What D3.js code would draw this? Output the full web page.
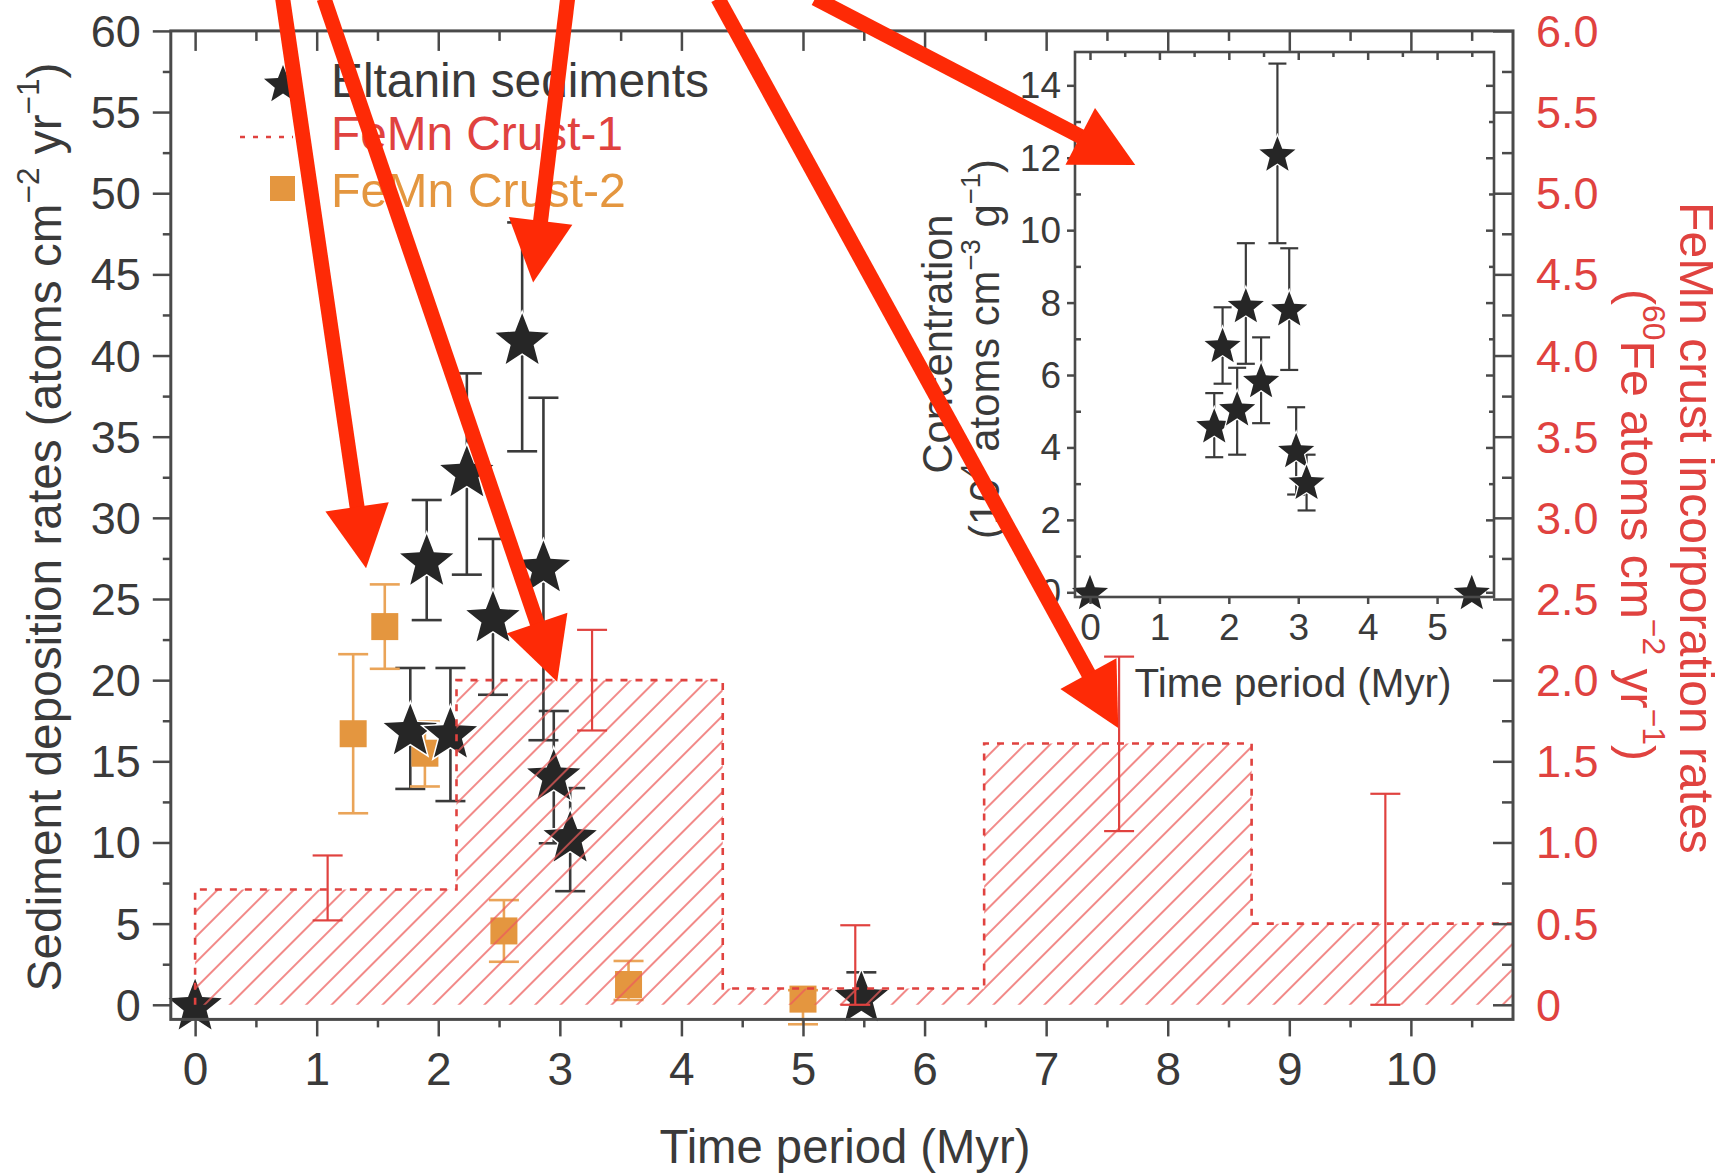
<!DOCTYPE html>
<html><head><meta charset="utf-8">
<script src="https://cdn.jsdelivr.net/npm/d3@7"></script>
<style>
body{margin:0;background:#fff}
svg{display:block}
text{font-family:"Liberation Sans",Arial,Helvetica,sans-serif}
</style>
</head><body>
<svg id="chart" width="1728" height="1173"></svg>
<script>
// ---------------- DATA ----------------
// Eltanin sediments: deposition rates (atoms cm^-2 yr^-1) vs time period (Myr)
const eltaninAge      = [0, 1.77, 1.905, 2.10, 2.235, 2.45, 2.69, 2.865, 2.95, 3.085, 5.48];
const eltaninRate     = [0, 16.95, 27.4, 16.75, 32.85, 23.9, 41.0, 27.0, 14.15, 10.35, 0.5];
const eltaninRateLow  = [null, 13.3, 23.7, 12.55, 26.5, 19.1, 34.1, 16.3, 9.95, 7.0, 0.5];
const eltaninRateHigh = [null, 20.75, 31.1, 20.75, 38.9, 28.7, 48.2, 37.4, 18.1, 13.35, 2.0];

// Inset: concentration
const insetAge      = [0, 1.79, 1.91, 2.12, 2.245, 2.465, 2.70, 2.87, 2.97, 3.12, 5.5];
const insetConc     = [0, 4.6, 6.82, 5.07, 7.92, 5.85, 12.11, 7.83, 3.92, 3.04, 0];
const insetConcLow  = [null, 3.73, 5.76, 3.8, 6.31, 4.67, 9.64, 6.14, 2.7, 2.26, null];
const insetConcHigh = [null, 5.5, 7.87, 6.2, 9.64, 7.04, 14.6, 9.5, 5.11, 3.8, null];

// FeMn Crust-1: stepped incorporation rates (right axis units)
const crust1Edges = [0, 2.15, 4.34, 6.49, 8.69, 10.84];
const crust1Rate  = [0.71, 2.0, 0.1, 1.61, 0.5];
// FeMn Crust-1 error bars (right axis units)
const crust1ErrAge  = [1.09, 3.265, 5.43, 7.6, 9.79];
const crust1ErrLow  = [0.52, 1.69, 0, 1.07, 0];
const crust1ErrHigh = [0.92, 2.31, 0.49, 2.145, 1.30];

// FeMn Crust-2 (left axis units)
const crust2Age  = [1.30, 1.56, 1.89, 2.54, 3.565, 5.0];
const crust2Rate = [16.7, 23.3, 15.5, 4.55, 1.25, 0.35];
const crust2Low  = [11.8, 20.7, 13.45, 2.65, 0.3, -1.2];
const crust2High = [21.6, 25.9, 17.45, 6.45, 2.7, 0.9];

// Tick values
const leftTicks  = d3.range(0, 61, 5);
const rightTicks = d3.range(0, 6.01, 0.5);
const xTicks     = d3.range(0, 11, 1);
const insetYTicks = d3.range(0, 15, 2);
const insetXTicks = d3.range(0, 6, 1);

// Annotation arrows (in main-chart data units)
const arrowFromAge  = [0.72, 1.06, 3.064, 4.3, 5.10];
const arrowFromRate = [62, 62, 62, 62, 62];
const arrowToAge    = [1.406, 2.978, 2.78, 7.593, 7.733];
const arrowToRate   = [26.9, 19.9, 44.5, 17.06, 51.74];

// ---------------- STYLE ----------------
const W = 1728, H = 1173;
const axisColor = "#4a4a4a", textColor = "#3a3a3a";
const red = "#e0423f", redLight = "#ec5c5a", orange = "#e4963f", orangeErr = "#eaa458";
const starFill = "#262626", arrowRed = "#fe2a06";

const svg = d3.select("#chart");
svg.append("rect").attr("width", W).attr("height", H).attr("fill", "#fff");

const M = {left: 170.8, right: 1513, top: 30.9, bottom: 1019.4};
const x  = d3.scaleLinear().domain([-0.2, 10.84]).range([M.left, M.right]);
const y  = d3.scaleLinear().domain([-0.9, 60]).range([M.bottom, M.top]);
const yR = d3.scaleLinear().domain([-0.09, 6.0]).range([M.bottom, M.top]);

function starPath(R, ratio) {
  const p = [];
  for (let i = 0; i < 10; i++) {
    const r = i % 2 ? R * ratio : R;
    const a = -Math.PI / 2 + i * Math.PI / 5;
    p.push([r * Math.cos(a), r * Math.sin(a)]);
  }
  return "M" + p.map(d => d[0].toFixed(2) + "," + d[1].toFixed(2)).join("L") + "Z";
}
function fit(sel, target) {
  const L = sel.node().getComputedTextLength();
  const fs = parseFloat(sel.attr("font-size"));
  sel.attr("font-size", fs * target / L);
}
function richText(parent, segs, fs, color) {
  const t = parent.append("text").attr("font-size", fs).attr("fill", color)
    .attr("text-anchor", "middle").attr("dominant-baseline", "central");
  let prevSup = false;
  segs.forEach(s => {
    const ts = t.append("tspan").text(s.t);
    if (s.sup) { ts.style("font-size", "66%").attr("dy", "-0.5em"); prevSup = true; }
    else if (prevSup) { ts.attr("dy", "0.33em"); prevSup = false; }
  });
  return t;
}

// hatch pattern
const defs = svg.append("defs");
defs.append("pattern").attr("id", "hatch").attr("patternUnits", "userSpaceOnUse")
  .attr("width", 18).attr("height", 18).attr("patternTransform", "rotate(45)")
  .append("line").attr("x1", 9).attr("y1", -2).attr("x2", 9).attr("y2", 20)
  .attr("stroke", redLight).attr("stroke-width", 1.6);

// ---------- Eltanin error bars ----------
const gMain = svg.append("g");
const eltIdx = d3.range(eltaninAge.length).filter(i => eltaninRateHigh[i] !== null);
function errBars(g, idx, xs, lo, hi, xsc, ysc, cap, color, sw) {
  idx.forEach(i => {
    const cx = xsc(xs[i]);
    g.append("line").attr("x1", cx).attr("x2", cx).attr("y1", ysc(lo[i])).attr("y2", ysc(hi[i]))
      .attr("stroke", color).attr("stroke-width", sw);
    [lo[i], hi[i]].forEach(v => {
      g.append("line").attr("x1", cx - cap).attr("x2", cx + cap).attr("y1", ysc(v)).attr("y2", ysc(v))
        .attr("stroke", color).attr("stroke-width", sw);
    });
  });
}
errBars(gMain, eltIdx, eltaninAge, eltaninRateLow, eltaninRateHigh, x, y, 15, "#3a3a3a", 2.6);
const c2Idx = d3.range(crust2Age.length);
errBars(gMain, c2Idx, crust2Age, crust2Low, crust2High, x, y, 15, orangeErr, 2.6);

// Crust-2 squares
gMain.selectAll("rect.c2").data(c2Idx).join("rect").attr("class", "c2")
  .attr("x", i => x(crust2Age[i]) - 13.5).attr("y", i => y(crust2Rate[i]) - 13.5)
  .attr("width", 27).attr("height", 27).attr("fill", orange);

// stars
const bigStar = starPath(28, 0.43);
gMain.selectAll("path.star").data(d3.range(eltaninAge.length)).join("path").attr("class", "star")
  .attr("d", bigStar)
  .attr("transform", i => `translate(${x(eltaninAge[i])},${y(eltaninRate[i]) + 2})`)
  .attr("fill", starFill).attr("stroke", "#fff").attr("stroke-width", 3).attr("paint-order", "stroke");

// ---------- Crust-1 hatched steps ----------
const stepPts = [];
crust1Rate.forEach((v, i) => { stepPts.push([crust1Edges[i], v]); stepPts.push([crust1Edges[i + 1], v]); });
svg.append("path").attr("d", d3.area().x(d => x(d[0])).y0(yR(0)).y1(d => yR(d[1]))(stepPts))
  .attr("fill", "url(#hatch)").attr("opacity", 0.9);
const outline = [[crust1Edges[0], 0]].concat(stepPts);
svg.append("path").attr("d", d3.line().x(d => x(d[0])).y(d => yR(d[1]))(outline))
  .attr("fill", "none").attr("stroke", red).attr("stroke-width", 2.6).attr("stroke-dasharray", "7,8");

// Crust-1 error bars
errBars(svg.append("g"), d3.range(crust1ErrAge.length), crust1ErrAge, crust1ErrLow, crust1ErrHigh, x, yR, 15, red, 2.2);

// ---------- Axes & frame ----------
function styleAxis(g, fs, color) {
  g.select(".domain").remove();
  g.selectAll("line").attr("stroke", axisColor).attr("stroke-width", 2.5);
  g.selectAll("text").attr("font-size", fs).attr("fill", color)
    .attr("font-family", '"Liberation Sans",Arial,sans-serif');
  g.attr("font-family", null);
}
let ga;
ga = svg.append("g").attr("transform", `translate(${M.left},0)`)
  .call(d3.axisLeft(y).tickValues(leftTicks).tickSize(18).tickPadding(12).tickFormat(d3.format("d")));
styleAxis(ga, 45, textColor);
ga.selectAll("text").attr("dy", null).attr("dominant-baseline", "central");
ga = svg.append("g").attr("transform", `translate(${M.left},0)`)
  .call(d3.axisLeft(y).tickValues(d3.range(2.5, 60, 5)).tickSize(8).tickFormat(""));
styleAxis(ga, 10, textColor);

ga = svg.append("g").attr("transform", `translate(0,${M.bottom})`)
  .call(d3.axisBottom(x).tickValues(xTicks).tickSize(17).tickPadding(16).tickFormat(d3.format("d")));
styleAxis(ga, 46, textColor);
ga = svg.append("g").attr("transform", `translate(0,${M.bottom})`)
  .call(d3.axisBottom(x).tickValues(d3.range(0.5, 10.84, 1)).tickSize(8).tickFormat(""));
styleAxis(ga, 10, textColor);

ga = svg.append("g").attr("transform", `translate(0,${M.top})`)
  .call(d3.axisTop(x).tickValues(xTicks).tickSize(-20).tickFormat(""));
styleAxis(ga, 10, textColor);
ga = svg.append("g").attr("transform", `translate(0,${M.top})`)
  .call(d3.axisTop(x).tickValues(d3.range(0.5, 10.84, 1)).tickSize(-10).tickFormat(""));
styleAxis(ga, 10, textColor);

ga = svg.append("g").attr("transform", `translate(${M.right},0)`)
  .call(d3.axisRight(yR).tickValues(rightTicks).tickSize(-20).tickPadding(23)
    .tickFormat(d => d === 0 ? "0" : d3.format(".1f")(d)));
styleAxis(ga, 45, red);
ga.selectAll("text").attr("dy", null).attr("dominant-baseline", "central");
ga = svg.append("g").attr("transform", `translate(${M.right},0)`)
  .call(d3.axisRight(yR).tickValues(d3.range(0.25, 6, 0.5)).tickSize(-11).tickFormat(""));
styleAxis(ga, 10, red);

svg.append("rect").attr("x", M.left).attr("y", M.top).attr("width", M.right - M.left)
  .attr("height", M.bottom - M.top).attr("fill", "none").attr("stroke", axisColor).attr("stroke-width", 3);

// axis titles
let t = richText(svg, [{t: "Sediment deposition rates (atoms cm"}, {t: "−2", sup: true}, {t: " yr"}, {t: "−1", sup: true}, {t: ")"}], 44, textColor)
  .attr("transform", "translate(44,527) rotate(-90)");
fit(t, 929);
t = svg.append("text").text("Time period (Myr)").attr("font-size", 46).attr("fill", textColor)
  .attr("text-anchor", "middle").attr("dominant-baseline", "central").attr("x", 845).attr("y", 1146);
fit(t, 371);
t = richText(svg, [{t: "FeMn crust incorporation rates"}], 44, red).attr("transform", "translate(1697,528) rotate(90)");
fit(t, 652);
t = richText(svg, [{t: "("}, {t: "60", sup: true}, {t: "Fe atoms cm"}, {t: "−2", sup: true}, {t: " yr"}, {t: "−1", sup: true}, {t: ")"}], 40, red)
  .attr("transform", "translate(1638,525) rotate(90)");
fit(t, 472);

// ---------- Legend ----------
const lg = svg.append("g");
lg.append("path").attr("d", starPath(20, 0.43)).attr("transform", "translate(283,85)").attr("fill", starFill);
t = lg.append("text").text("Eltanin sediments").attr("x", 331).attr("y", 80).attr("font-size", 47)
  .attr("fill", textColor).attr("dominant-baseline", "central"); fit(t, 378);
lg.append("line").attr("x1", 240).attr("x2", 293).attr("y1", 137).attr("y2", 137)
  .attr("stroke", red).attr("stroke-width", 2.6).attr("stroke-dasharray", "5,8");
t = lg.append("text").text("FeMn Crust-1").attr("x", 331).attr("y", 133).attr("font-size", 47)
  .attr("fill", red).attr("dominant-baseline", "central"); fit(t, 292);
lg.append("rect").attr("x", 270).attr("y", 176).attr("width", 25).attr("height", 25).attr("fill", orange);
t = lg.append("text").text("FeMn Crust-2").attr("x", 331).attr("y", 190).attr("font-size", 47)
  .attr("fill", orange).attr("dominant-baseline", "central"); fit(t, 295);

// ---------- Inset ----------
const I = {left: 1075, right: 1494, top: 52, bottom: 597};
const xi = d3.scaleLinear().domain([-0.216, 5.82]).range([I.left, I.right]);
const yi = d3.scaleLinear().domain([-0.13, 14.92]).range([I.bottom, I.top]);
const gi = svg.append("g");
gi.append("rect").attr("x", I.left).attr("y", I.top).attr("width", I.right - I.left)
  .attr("height", I.bottom - I.top).attr("fill", "#fff");
const inIdx = d3.range(insetAge.length).filter(i => insetConcHigh[i] !== null);
errBars(gi, inIdx, insetAge, insetConcLow, insetConcHigh, xi, yi, 9, "#3a3a3a", 2.2);
gi.selectAll("path.istar").data(d3.range(insetAge.length)).join("path").attr("class", "istar")
  .attr("d", starPath(19, 0.43))
  .attr("transform", i => `translate(${xi(insetAge[i])},${yi(insetConc[i]) + 1.5})`)
  .attr("fill", starFill).attr("stroke", "#fff").attr("stroke-width", 2.5).attr("paint-order", "stroke");

ga = gi.append("g").attr("transform", `translate(${I.left},0)`)
  .call(d3.axisLeft(yi).tickValues(insetYTicks).tickSize(8).tickPadding(6).tickFormat(d3.format("d")));
styleAxis(ga, 37, textColor);
ga.selectAll("text").attr("dy", null).attr("dominant-baseline", "central");
ga = gi.append("g").attr("transform", `translate(${I.left},0)`)
  .call(d3.axisLeft(yi).tickValues(d3.range(1, 15, 2)).tickSize(-6).tickFormat(""));
styleAxis(ga, 10, textColor);
ga = gi.append("g").attr("transform", `translate(${I.right},0)`)
  .call(d3.axisRight(yi).tickValues(insetYTicks).tickSize(-8).tickFormat(""));
styleAxis(ga, 10, textColor);
ga = gi.append("g").attr("transform", `translate(${I.right},0)`)
  .call(d3.axisRight(yi).tickValues(d3.range(1, 15, 2)).tickSize(-5).tickFormat(""));
styleAxis(ga, 10, textColor);
ga = gi.append("g").attr("transform", `translate(0,${I.bottom})`)
  .call(d3.axisBottom(xi).tickValues(insetXTicks).tickSize(7).tickPadding(10).tickFormat(d3.format("d")));
styleAxis(ga, 37, textColor);
ga = gi.append("g").attr("transform", `translate(0,${I.top})`)
  .call(d3.axisTop(xi).tickValues(insetXTicks).tickSize(-8).tickFormat(""));
styleAxis(ga, 10, textColor);
ga = gi.append("g").attr("transform", `translate(0,${I.top})`)
  .call(d3.axisTop(xi).tickValues(d3.range(0.5, 5.8, 1)).tickSize(-5).tickFormat(""));
styleAxis(ga, 10, textColor);
gi.append("rect").attr("x", I.left).attr("y", I.top).attr("width", I.right - I.left)
  .attr("height", I.bottom - I.top).attr("fill", "none").attr("stroke", axisColor).attr("stroke-width", 2.6);

t = gi.append("text").text("Time period (Myr)").attr("font-size", 40).attr("fill", textColor)
  .attr("text-anchor", "middle").attr("dominant-baseline", "central").attr("x", 1293).attr("y", 683);
fit(t, 317);
t = richText(gi, [{t: "Concentration"}], 38, textColor).attr("transform", "translate(937,344) rotate(-90)");
fit(t, 259);
t = richText(gi, [{t: "(10"}, {t: "4", sup: true}, {t: " atoms cm"}, {t: "−3", sup: true}, {t: " g"}, {t: "−1", sup: true}, {t: ")"}], 38, textColor)
  .attr("transform", "translate(984,349) rotate(-90)");
fit(t, 380);

// ---------- Annotation arrows ----------
const ga2 = svg.append("g");
arrowFromAge.forEach((_, i) => {
  const x0 = x(arrowFromAge[i]), y0 = y(arrowFromRate[i]);
  const x1 = x(arrowToAge[i]), y1 = y(arrowToRate[i]);
  const dx = x1 - x0, dy = y1 - y0, len = Math.hypot(dx, dy);
  const ux = dx / len, uy = dy / len, px = -uy, py = ux;
  const L = 62, hw = 32;
  const bx = x1 - ux * L, by = y1 - uy * L;
  ga2.append("line").attr("x1", x0).attr("y1", y0).attr("x2", bx + ux * 4).attr("y2", by + uy * 4)
    .attr("stroke", arrowRed).attr("stroke-width", 15);
  ga2.append("path").attr("d", `M${x1},${y1}L${bx + px * hw},${by + py * hw}L${bx - px * hw},${by - py * hw}Z`)
    .attr("fill", arrowRed);
});
</script>
</body></html>
